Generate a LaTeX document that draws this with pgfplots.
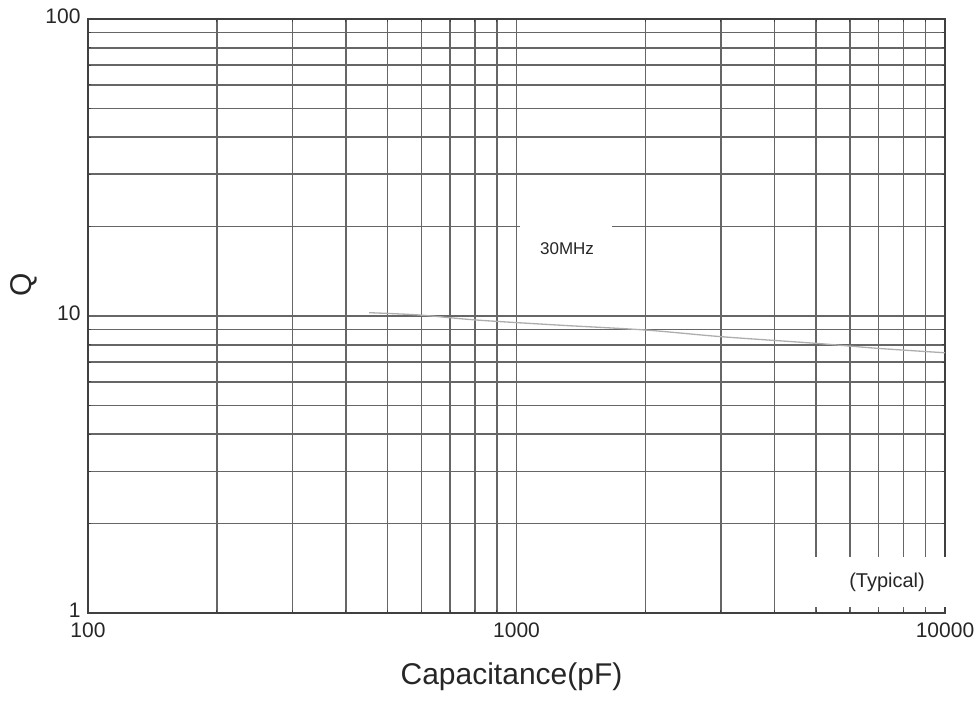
\documentclass[border=0pt]{standalone}
\usepackage{pgfplots}
\pgfplotsset{compat=1.18}
\usepackage{fontspec}
\setmainfont{Liberation Sans}
\begin{document}
\begin{tikzpicture}
\begin{axis}[
  scale only axis, width=857pt, height=594pt,
  xmode=log, ymode=log,
  xmin=100, xmax=10000, ymin=1, ymax=100,
  clip=false,
  xtick={100,1000,10000},
  xticklabels={\mbox{100},\mbox{1000},\mbox{10000}},
  ytick={1,10,100},
  yticklabels={\mbox{1},\mbox{10},\mbox{100}},
  minor xtick={200,300,400,500,600,700,800,900,2000,3000,4000,5000,6000,7000,8000,9000},
  minor ytick={2,3,4,5,6,7,8,9,20,30,40,50,60,70,80,90},
  grid=both,
  major grid style={line width=1.6pt, color=black!60},
  minor grid style={line width=1.6pt, color=black!60},
  axis line style={line width=2.4pt, color=black!75},
  major tick length=0pt, minor tick length=3pt,
  tick style={line width=1pt, color=black!75},
  tick label style={font=\fontsize{21}{21}\selectfont, color=black!85},
  xticklabel style={yshift=-6pt},
  yticklabel style={xshift=-4pt, yshift=3pt},
]
\addplot[color=black!32, line width=1.3pt, smooth] coordinates {
  (453,10.26) (592,10.08) (809,9.69) (1251,9.32) (2000,8.97)
  (3000,8.52) (5000,8.09) (7000,7.78) (10000,7.52)
};
\fill[white] (axis cs:1019,12.43) rectangle (axis cs:1671,22.75);
\node[font=\fontsize{17}{17}\selectfont, color=black!85] at (axis cs:1312,16.9) {30MHz};
\fill[white] (axis cs:4515,1.048) rectangle (axis cs:10958,1.544);
\node[font=\fontsize{20}{20}\selectfont, color=black!85] at (axis cs:7324,1.272) {(Typical)};
\end{axis}
\node[rotate=90, font=\fontsize{30}{30}\selectfont, color=black!85] at ([shift={(-64pt,31pt)}]current axis.west) {Q};
\node[font=\fontsize{30}{30}\selectfont, color=black!85] at ([shift={(-5pt,-64pt)}]current axis.south) {Capacitance(pF)};
\path ([shift={(-88pt,-87pt)}]current axis.south west) rectangle ([shift={(33pt,19pt)}]current axis.north east);
\end{tikzpicture}
\end{document}
